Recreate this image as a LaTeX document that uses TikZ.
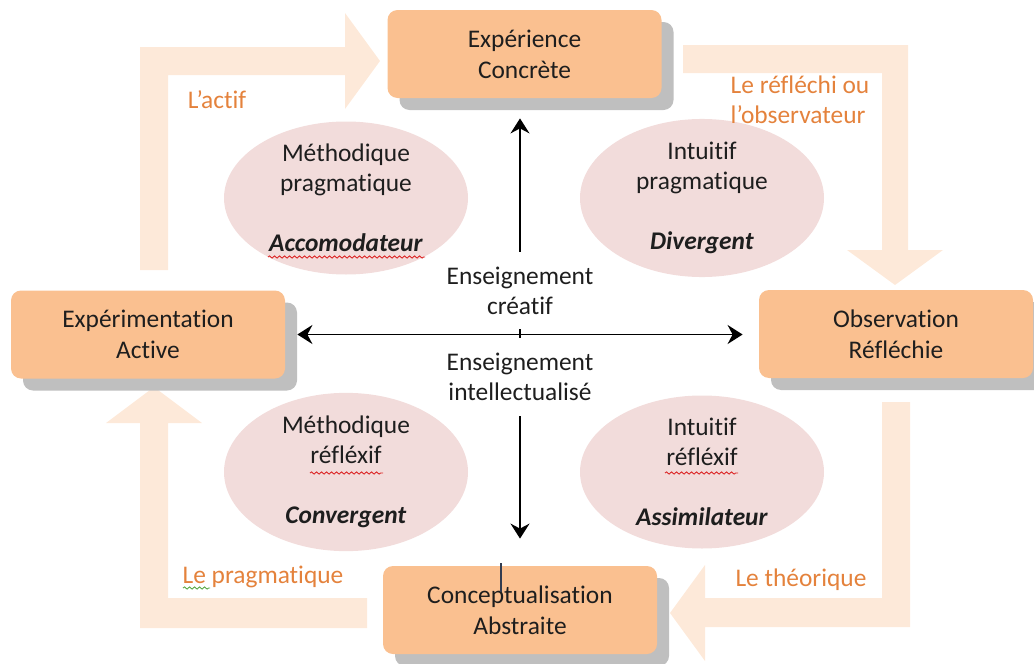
\documentclass[tikz,border=0pt]{standalone}
\usepackage{fontspec}
\setmainfont[Ligatures={NoCommon}]{Carlito}
\usepackage{xcolor}
\usepackage{tikz}
\usetikzlibrary{arrows.meta, shapes.geometric, shadows, decorations.pathmorphing, positioning}
\definecolor{boxorange}{RGB}{250,192,144}
\definecolor{shadowgray}{RGB}{191,191,191}
\definecolor{ellpink}{RGB}{242,220,219}
\definecolor{flowpeach}{RGB}{253,233,217}
\definecolor{labelorange}{RGB}{228,130,60}
\definecolor{inkgray}{RGB}{30,30,30}
\definecolor{spellred}{RGB}{220,40,40}
\definecolor{spellgreen}{RGB}{90,170,70}
\definecolor{cursorgray}{RGB}{50,60,80}
\tikzset{
    boxnode/.style = {rectangle, rounded corners=5pt, fill=boxorange, minimum width=137pt, 
      minimum height=44pt, inner sep=0pt, node distance=0em, align=center, text=inkgray,
      drop shadow={shadow xshift=6pt, shadow yshift=-6pt, fill=shadowgray, opacity=1},
      font=\fontsize{12.7}{15.5}\selectfont},
    ellipsenode/.style = {ellipse, fill=ellpink, minimum width=122pt, minimum height=76.5pt, 
      inner sep=0pt, node distance=0em, align=center, text=inkgray, font=\fontsize{12.7}{15}\selectfont},
    textnode/.style = {rectangle, inner sep=0pt, node distance=0em, align=center, text=inkgray,
      font=\fontsize{12.7}{15}\selectfont},
    labelnode/.style = {textnode, text=labelorange},
    flow/.style = {fill=flowpeach, draw=none},
    connect/.style = {black, line width=0.9pt, -{Stealth[length=7.5pt, width=9.5pt, inset=2.5pt]}},
    bothways/.style = {black, line width=0.9pt, 
      {Stealth[length=7.5pt, width=9.5pt, inset=2.5pt]}-{Stealth[length=7.5pt, width=9.5pt, inset=2.5pt]}},
    spell/.style = {decorate, decoration={snake, amplitude=0.55pt, segment length=2.5pt}, line width=0.45pt}
}
\newcommand{\learner}[1]{\textbf{\textit{#1}}}

\begin{document}
\begin{tikzpicture}[x=0.5pt, y=-0.5pt]
    \clip (0,0) rectangle (1034,664);
    \coordinate (ctr) at (520,333);

    \fill [flow] (140,270) -- (140,47) -- (345,47) -- (345,13) -- (380,61) -- (345,109) 
        -- (345,75) -- (168,75) -- (168,270) -- cycle;
    \fill [flow] (683,45) -- (908,45) -- (908,250) -- (943,250) -- (895,285) -- (847,250) 
        -- (882,250) -- (882,73) -- (683,73) -- cycle;
    \fill [flow] (882,402) -- (910,402) -- (910,627) -- (705,627) -- (705,661) -- (670,613) 
        -- (705,565) -- (705,598) -- (882,598) -- cycle;
    \fill [flow] (367,598) -- (367,628) -- (140,628) -- (140,423) -- (106,423) -- (154,387) 
        -- (202,423) -- (168,423) -- (168,598) -- cycle;

    \node [name=ec, boxnode, right of = ctr, xshift=2.25pt, yshift=139.5pt] {Expérience\\Concrète};
    \node [name=ea, boxnode, right of = ctr, xshift=-186pt, yshift=-0.75pt] {Expérimentation\\Active};
    \node [name=ro, boxnode, right of = ctr, xshift=188pt, yshift=-0.5pt] {Observation\\Réfléchie};
    \node [name=ca, boxnode, right of = ctr, xshift=0pt, yshift=-138.5pt] {Conceptualisation\\Abstraite};

    \node [name=acc, ellipsenode, right of = ctr, xshift=-87pt, yshift=67.5pt] 
        {Méthodique\\pragmatique\\[15pt]\learner{Accomodateur}};
    \node [name=div, ellipsenode, right of = ctr, xshift=91pt, yshift=67.5pt] 
        {Intuitif\\pragmatique\\[15pt]\learner{Divergent}};
    \node [name=con, ellipsenode, right of = ctr, xshift=-87pt, yshift=-69.5pt] 
        {Méthodique\\réfléxif\\[15pt]\learner{Convergent}};
    \node [name=ass, ellipsenode, right of = ctr, xshift=91pt, yshift=-69.5pt] 
        {Intuitif\\réfléxif\\[15pt]\learner{Assimilateur}};

    \node [name=cre, textnode, right of = ctr, yshift=21pt] {Enseignement\\créatif};
    \node [name=int, textnode, right of = ctr, yshift=-22pt] {Enseignement\\intellectualisé};

    \node [name=actif, labelnode, right of = ctr, xshift=-151.5pt, yshift=116.5pt] {L’actif};
    \node [name=refl, labelnode, align=left, right of = ctr, xshift=140pt, yshift=116.5pt] 
        {Le réfléchi ou\\l’observateur};
    \node [name=theo, labelnode, right of = ctr, xshift=140.5pt, yshift=-123.5pt] {Le théorique};
    \node [name=prag, labelnode, right of = ctr, xshift=-128.5pt, yshift=-122pt] {Le pragmatique};

    \draw [connect, shorten <=7.5pt, shorten >=10pt] (cre.north) -- (cre.north |- ec.south);
    \draw [connect, shorten <=7.5pt, shorten >=13.5pt] (int.south) -- (int.south |- ca.north);
    \draw [bothways, shorten <=6pt, shorten >=8pt] (ea.east) -- (ea.east -| ro.west);
    \draw [line width=0.6pt] ([yshift=2pt]ctr) -- ([yshift=-2.5pt]ctr);
    \draw [cursorgray, line width=1pt] (501,563) -- (501,592);

    \draw [spell, spellred] (268,257) -- (425,257);
    \draw [spell, spellred] (310,473) -- (383,473);
    \draw [spell, spellred] (665,473) -- (738,473);
    \draw [spell, spellgreen] (183,588) -- (210,588);
\end{tikzpicture}
\end{document}
